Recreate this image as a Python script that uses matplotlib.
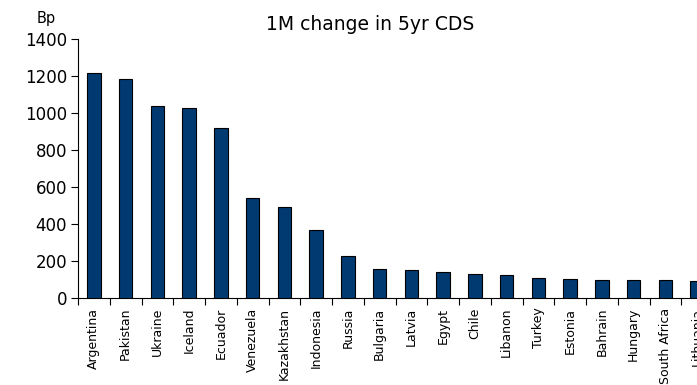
import matplotlib
matplotlib.use("Agg")
import matplotlib.pyplot as plt
import numpy as np

countries = ["Argentina", "Pakistan", "Ukraine", "Iceland", "Ecuador", "Venezuela",
             "Kazakhstan", "Indonesia", "Russia", "Bulgaria", "Latvia", "Egypt",
             "Chile", "Libanon", "Turkey", "Estonia", "Bahrain", "Hungary",
             "South Africa", "Lithuania"]
values = [1216, 1184, 1038, 1027, 919, 541, 492, 368, 227, 157, 151, 140,
          130, 127, 108, 103, 100, 100, 97, 92]
yticks = [0, 200, 400, 600, 800, 1000, 1200, 1400]

plt.rcParams['font.family'] = ['DejaVu Sans']

fig = plt.figure(figsize=(6.97, 3.85), dpi=100)
left = 78 / 697
right_px = 713
ax = fig.add_axes([left, 1 - 298 / 385, (right_px - 78) / 697, (298 - 39) / 385])
x = np.arange(len(countries))
ax.bar(x, values, width=0.42, color="#003a70", edgecolor="black", linewidth=0.8, zorder=3)
ax.set_xlim(-0.5, len(countries) - 0.5)
ax.set_ylim(0, 1400)
ax.set_yticks(yticks)
ax.set_yticklabels([str(v) for v in yticks], fontsize=12)
ax.set_xticks(x)
ax.set_xticklabels(countries, rotation=90, fontsize=9)
ax.tick_params(axis='x', length=0, pad=7)
ax.set_xticks(np.arange(-0.5, len(countries), 1), minor=True)
ax.tick_params(axis='x', which='minor', length=5, width=0.8, direction='out')
ax.tick_params(axis='y', length=5, width=0.8, direction='out', pad=3)
for s in ['top', 'right']:
    ax.spines[s].set_visible(False)
for s in ['left', 'bottom']:
    ax.spines[s].set_linewidth(0.8)
fig.text(370 / 697, 1 - 25 / 385, "1M change in 5yr CDS", ha='center', va='center', fontsize=13.5)
fig.text(46 / 697, 1 - 19 / 385, "Bp", ha='center', va='center', fontsize=10.5)
fig.savefig("out.png", dpi=100)
